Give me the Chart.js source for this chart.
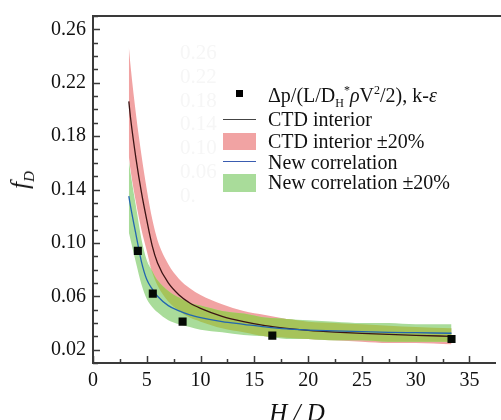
<!DOCTYPE html>
<html>
<head>
<meta charset="utf-8">
<script src="https://cdn.jsdelivr.net/npm/chart.js@4"></script>
<style>
html,body{margin:0;padding:0;background:#fff;}
#wrap{position:relative;width:501px;height:420px;overflow:hidden;font-family:"Liberation Serif","Times New Roman",serif;color:#111;}
#c{position:absolute;left:0;top:0;}
.ghost{position:absolute;left:180px;color:#f6f6f6;font-size:21px;line-height:22px;}
.lg{position:absolute;left:268px;font-size:20px;line-height:22px;height:22px;white-space:nowrap;}
.lg sub,.lg sup{font-size:12px;line-height:0;}
.sym{position:absolute;}
#ytitle{position:absolute;left:22px;top:180px;transform:translate(-50%,-50%) rotate(-90deg);font-size:25px;font-style:italic;white-space:nowrap;}
#ytitle sub{font-size:15px;}
#xtitle{position:absolute;left:297px;top:413px;transform:translate(-50%,-50%);font-size:25px;font-style:italic;white-space:nowrap;}
</style>
</head>
<body>
<div id="wrap">
  <canvas id="c" width="501" height="420"></canvas>
  <div id="ghosts"></div>
  <div class="sym" style="left:236px;top:90px;width:7px;height:7px;background:#000;"></div>
  <div class="lg" style="top:84px;">&Delta;p/(L/D<sub>H</sub><sup>*</sup><i>&rho;</i>V<sup>2</sup>/2), k-<i>&epsilon;</i></div>
  <div class="sym" style="left:223px;top:118.5px;width:33px;height:1.5px;background:#444;"></div>
  <div class="lg" style="top:108px;">CTD interior</div>
  <div class="sym" style="left:223px;top:133px;width:33px;height:17px;background:#f1a3a3;"></div>
  <div class="lg" style="top:130px;">CTD interior &plusmn;20%</div>
  <div class="sym" style="left:223px;top:160.5px;width:33px;height:1.5px;background:#3a5cb0;"></div>
  <div class="lg" style="top:151px;">New correlation</div>
  <div class="sym" style="left:223px;top:173.5px;width:33px;height:18px;background:#a9dc9a;"></div>
  <div class="lg" style="top:171px;">New correlation &plusmn;20%</div>
  <div id="ytitle">f<sub>D</sub></div>
  <div id="xtitle">H / D</div>
</div>
<script>
/* ---------- data ---------- */
const xs      = [3.33,3.5,4,4.5,5,5.5,6,7,8,9,10,12,14,16,18,20,22.5,25,27.5,30,33.33];
const ctd     = [0.206,0.193,0.163,0.138,0.117,0.098,0.085,0.070,0.061,0.055,0.051,0.045,0.041,0.038,0.036,0.0345,0.0332,0.0322,0.0314,0.0307,0.0300];
const ctdHi   = [0.247,0.232,0.196,0.166,0.140,0.118,0.102,0.084,0.073,0.066,0.061,0.054,0.049,0.046,0.043,0.041,0.040,0.039,0.038,0.037,0.036];
const ctdLo   = [0.165,0.154,0.130,0.110,0.094,0.078,0.068,0.056,0.049,0.044,0.041,0.036,0.033,0.030,0.029,0.028,0.027,0.026,0.025,0.025,0.024];
const newCorr = [0.135,0.127,0.106,0.086,0.0725,0.0655,0.060,0.053,0.049,0.046,0.044,0.041,0.039,0.037,0.0355,0.0347,0.034,0.0335,0.033,0.0327,0.0323];
const newHi   = [0.162,0.152,0.127,0.103,0.087,0.079,0.072,0.064,0.059,0.055,0.053,0.049,0.047,0.044,0.043,0.042,0.041,0.040,0.040,0.039,0.039];
const newLo   = [0.108,0.102,0.085,0.069,0.058,0.052,0.048,0.042,0.039,0.037,0.035,0.033,0.031,0.030,0.028,0.028,0.027,0.027,0.026,0.026,0.026];
/* where the two bands overlap (olive) */
const ovX     = [5,5.5,6,7,8,9,10,12,14,16,18,20,22.5,25,27.5,30,33.33];
const ovTop   = [0.090,0.079,0.072,0.064,0.059,0.055,0.053,0.049,0.047,0.044,0.043,0.041,0.040,0.039,0.038,0.037,0.036];
const ovBot   = [0.090,0.078,0.068,0.056,0.049,0.044,0.041,0.036,0.033,0.030,0.029,0.028,0.027,0.027,0.026,0.026,0.026];
/* k-epsilon points */
const simX    = [4.17,5.56,8.33,16.67,33.33];
const simY    = [0.094,0.062,0.041,0.0305,0.028];

const xTicks  = [0,5,10,15,20,25,30,35];
const xMinor  = [2.5,7.5,12.5,17.5,22.5,27.5,32.5];
const yTicks  = [0.02,0.06,0.10,0.14,0.18,0.22,0.26];
const yMinor  = [0.01,0.03,0.04,0.05,0.07,0.08,0.09,0.11,0.12,0.13,0.15,0.16,0.17,0.19,0.20,0.21,0.23,0.24,0.25,0.27];
const ghostLabels = ["0.26","0.22","0.18","0.14","0.10","0.06","0."];

/* faint ghost labels in the background */
const gh = document.getElementById("ghosts");
ghostLabels.forEach((t,i)=>{
  const d=document.createElement("div");d.className="ghost";d.textContent=t;
  d.style.top=(41+i*23.8)+"px";gh.appendChild(d);
});

const pts = (xv,yv) => xv.map((x,i)=>({x:x,y:yv[i]}));
const AX = "#3a3a3a";
const FONT = {family:"'Liberation Serif','Times New Roman',serif",size:20};

const band = (data,color,fill,order) => ({data,borderWidth:0,pointRadius:0,backgroundColor:color,fill,order,cubicInterpolationMode:"monotone"});

/* inward ticks + top frame line */
const frame = {
  id:"frame",
  afterDraw(chart){
    const {ctx,chartArea:a,scales:{x,y}} = chart;
    ctx.save();
    ctx.strokeStyle=AX;ctx.lineWidth=1.5;
    ctx.beginPath();
    xTicks.forEach(v=>{const p=Math.round(x.getPixelForValue(v))+0.5;ctx.moveTo(p,a.bottom);ctx.lineTo(p,a.bottom-7);});
    xMinor.forEach(v=>{const p=Math.round(x.getPixelForValue(v))+0.5;ctx.moveTo(p,a.bottom);ctx.lineTo(p,a.bottom-4);});
    yTicks.forEach(v=>{const p=Math.round(y.getPixelForValue(v))+0.5;ctx.moveTo(a.left,p);ctx.lineTo(a.left+7,p);});
    yMinor.forEach(v=>{const p=Math.round(y.getPixelForValue(v))+0.5;ctx.moveTo(a.left,p);ctx.lineTo(a.left+5,p);});
    ctx.stroke();
    ctx.lineWidth=2;
    ctx.beginPath();ctx.moveTo(a.left-1,a.top);ctx.lineTo(chart.width,a.top);ctx.stroke();
    ctx.restore();
  }
};

new Chart(document.getElementById("c"),{
  type:"line",
  data:{datasets:[
    band(pts(xs,ctdHi),"#f1a3a3","+1",9),
    band(pts(xs,ctdLo),"#f1a3a3",false,9),
    band(pts(xs,newHi),"#a9dc9a","+1",8),
    band(pts(xs,newLo),"#a9dc9a",false,8),
    band(pts(ovX,ovTop),"#a6c35a","+1",7),
    band(pts(ovX,ovBot),"#a6c35a",false,7),
    {label:"CTD interior",data:pts(xs,ctd),borderColor:"#3b1414",borderWidth:1.3,pointRadius:0,fill:false,order:2,cubicInterpolationMode:"monotone"},
    {label:"New correlation",data:pts(xs,newCorr),borderColor:"#2266b0",borderWidth:1.3,pointRadius:0,fill:false,order:1,cubicInterpolationMode:"monotone"},
    {label:"k-epsilon",data:pts(simX,simY),showLine:false,pointStyle:"rect",pointRadius:5.7,pointBackgroundColor:"#050a05",pointBorderWidth:0,order:0}
  ]},
  options:{
    responsive:false,animation:false,
    layout:{padding:{top:16,left:0,right:0,bottom:0}},
    plugins:{legend:{display:false},tooltip:{enabled:false}},
    scales:{
      x:{type:"linear",min:0,max:37.4,
        grid:{display:false,drawTicks:false},
        border:{display:true,color:AX,width:2},
        afterBuildTicks:s=>{s.ticks=xTicks.map(v=>({value:v}));},
        afterFit:s=>{s.height=57;s.paddingLeft=0;s.paddingRight=0;},
        ticks:{color:"#111",font:FONT,padding:6,maxRotation:0,callback:v=>String(v)}},
      y:{type:"linear",min:0.01,max:0.27,
        grid:{display:false,drawTicks:false},
        border:{display:true,color:AX,width:2},
        afterBuildTicks:s=>{s.ticks=yTicks.map(v=>({value:v}));},
        afterFit:s=>{s.width=93;s.paddingTop=0;s.paddingBottom=0;},
        ticks:{color:"#111",font:FONT,padding:7,callback:v=>v.toFixed(2)}}
    }
  },
  plugins:[frame]
});
</script>
</body>
</html>
